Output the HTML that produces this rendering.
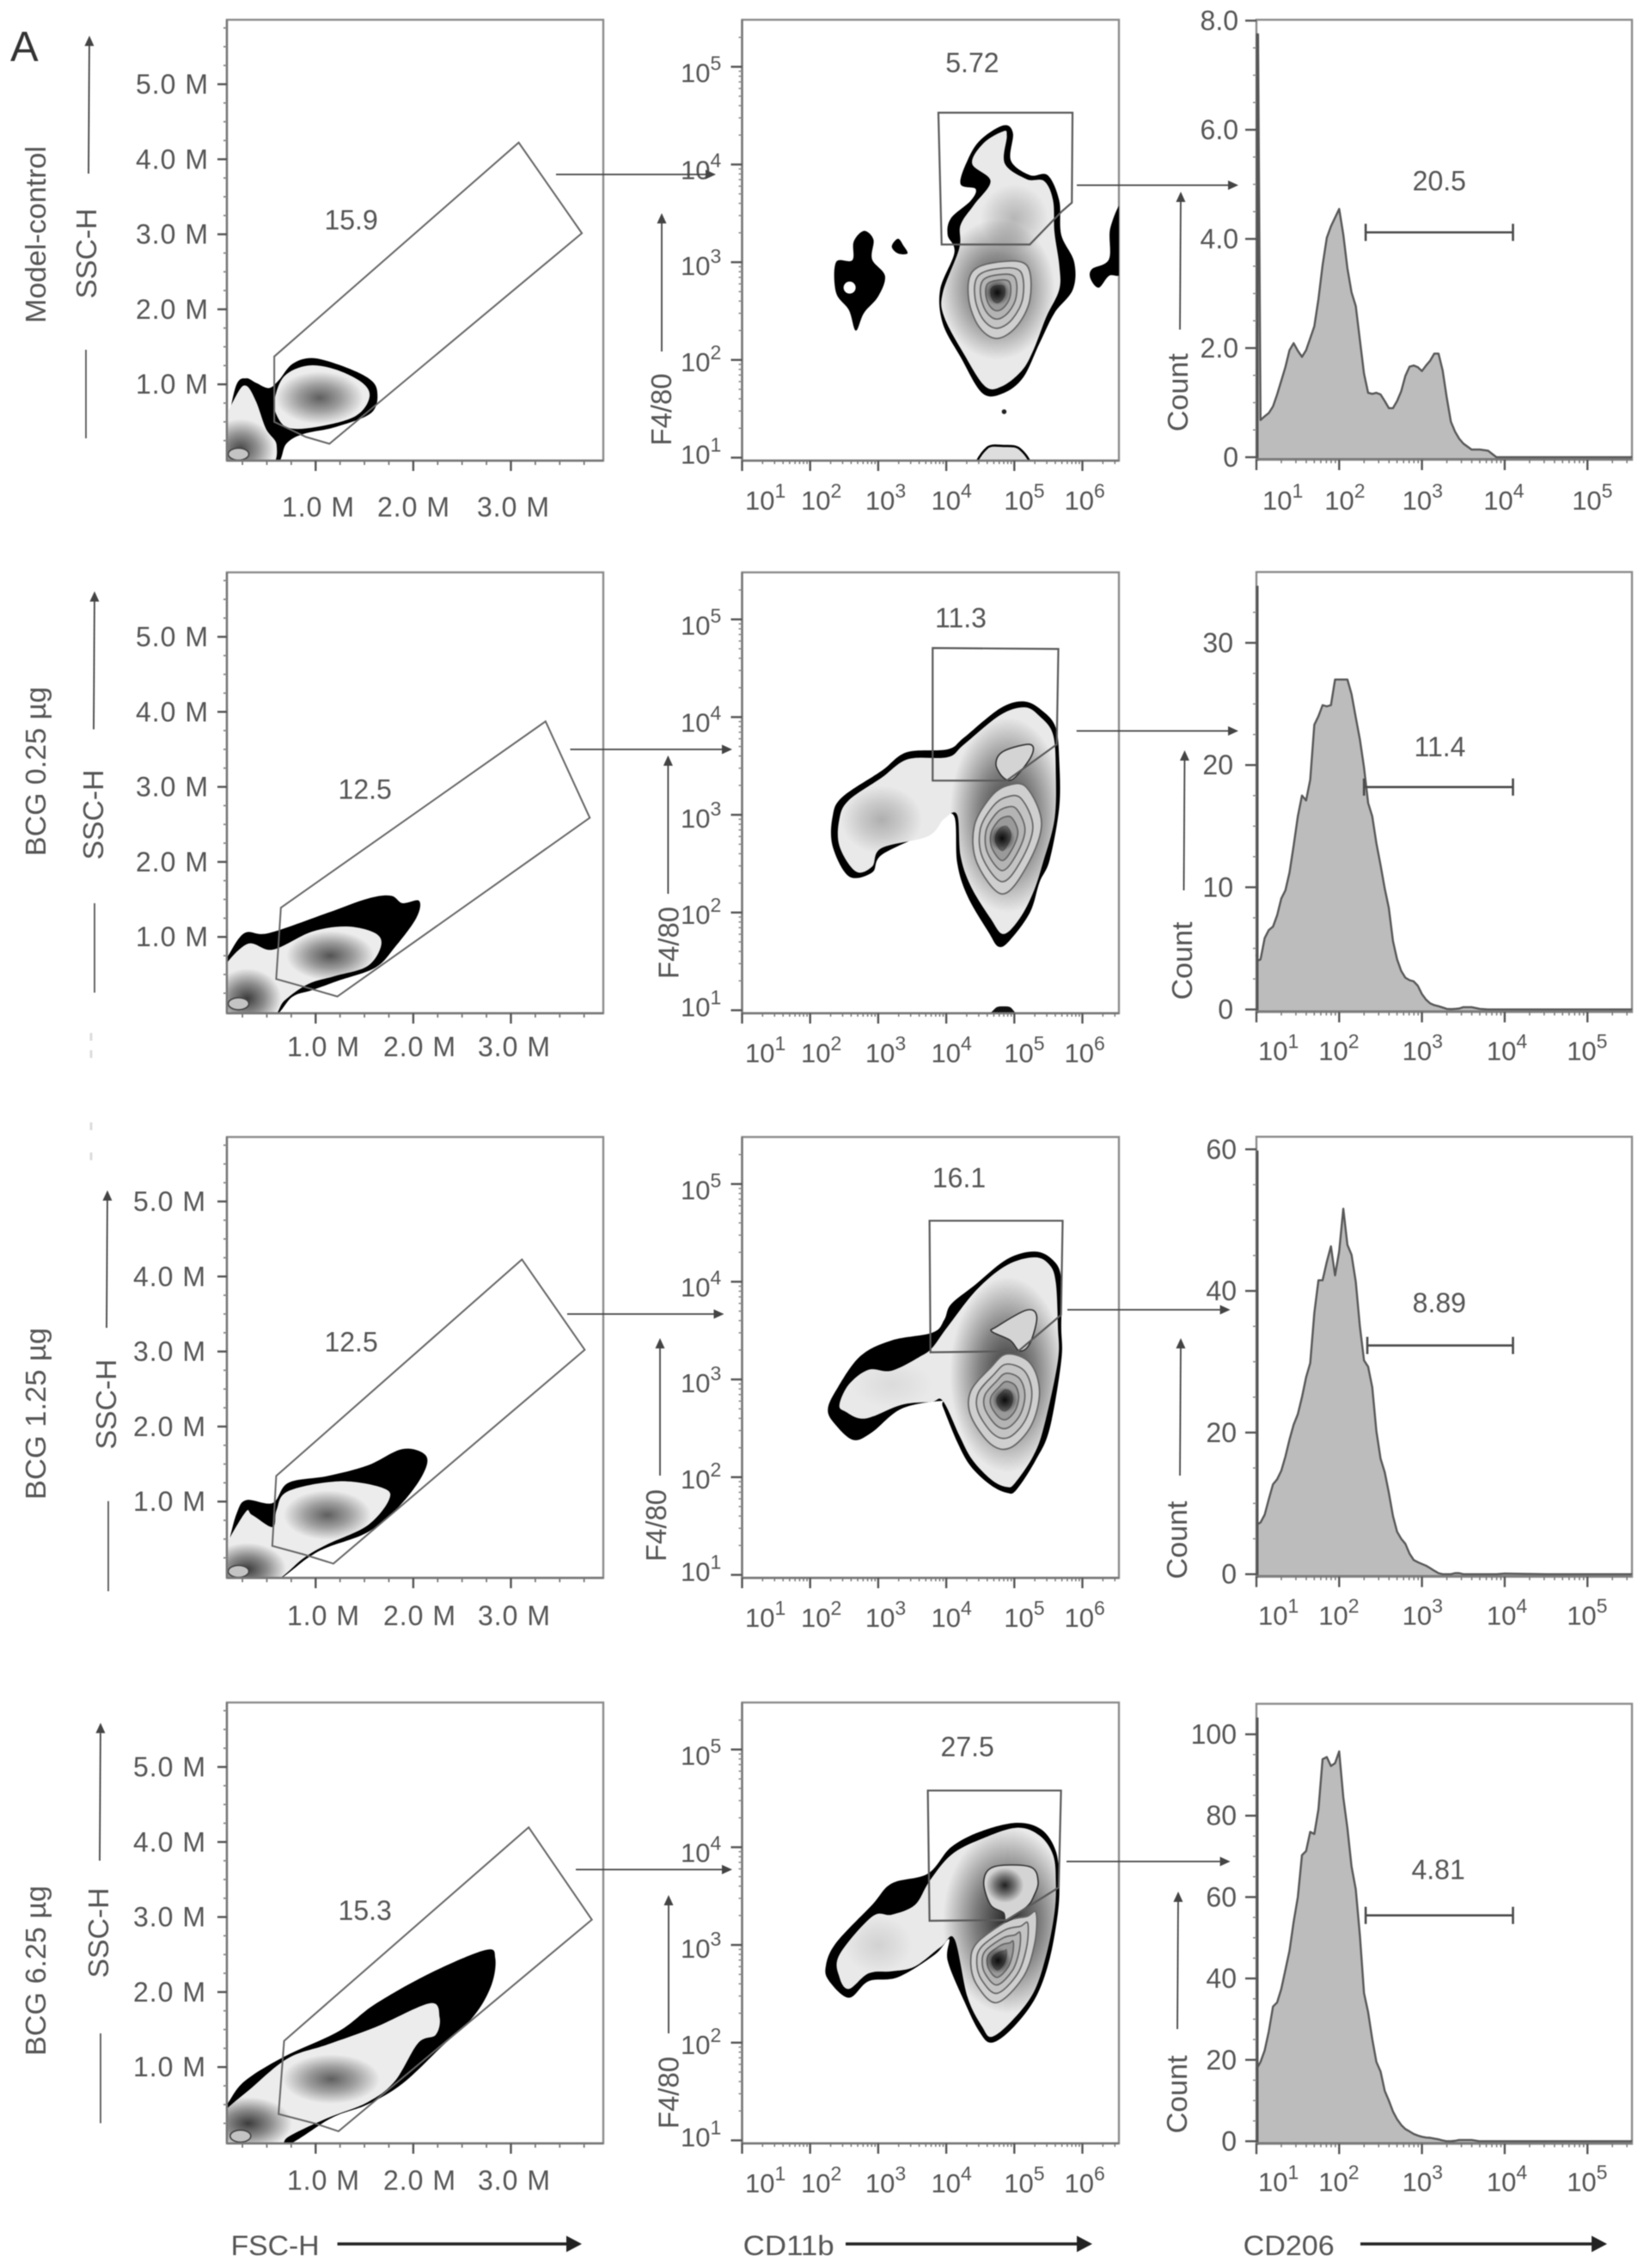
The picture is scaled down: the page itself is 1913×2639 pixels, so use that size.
<!DOCTYPE html>
<html lang="en">
<head>
<meta charset="utf-8">
<title>Flow cytometry gating: FSC/SSC, CD11b/F4/80 and CD206 histograms</title>
<style>
html,body{margin:0;padding:0;background:#fff;width:1913px;height:2639px;overflow:hidden}
svg{display:block;filter:blur(0.65px)}
text{font-family:"Liberation Sans",sans-serif}
</style>
</head>
<body>
<svg id="fig" xmlns="http://www.w3.org/2000/svg" width="1913" height="2639" viewBox="0 0 1913 2639">
<defs>
<radialGradient id="shade"><stop offset="0" stop-color="#000" stop-opacity="1"/><stop offset="0.5" stop-color="#000" stop-opacity="0.55"/><stop offset="1" stop-color="#000" stop-opacity="0"/></radialGradient>
</defs>
<rect x="0" y="0" width="1913" height="2639" fill="#fff"/>
<text x="12" y="71" font-size="49" fill="#333">A</text>
</svg>
<script>
/* ---------- shared tick values and labels ---------- */
const rowNames = ['Model-control', 'BCG 0.25 µg', 'BCG 1.25 µg', 'BCG 6.25 µg'];
const fscTicks = [1, 2, 3];
const fscTickLabels = ['1.0 M', '2.0 M', '3.0 M'];
const sscTicks = [1, 2, 3, 4, 5];
const sscTickLabels = ['1.0 M', '2.0 M', '3.0 M', '4.0 M', '5.0 M'];
const cd11bDecades = [1, 2, 3, 4, 5, 6];
const f480Decades = [1, 2, 3, 4, 5];
const cd206Decades = [1, 2, 3, 4, 5];

/* ---------- gate percentages ---------- */
const fscGatePercent = ['15.9', '12.5', '12.5', '15.3'];
const f480GatePercent = ['5.72', '11.3', '16.1', '27.5'];
const cd206GatePercent = ['20.5', '11.4', '8.89', '4.81'];

/* ---------- FSC-H / SSC-H density outlines, in millions ---------- */
const fscGateModel = [[0.576,1.371],[3.08,4.222],[3.727,3.014],[1.141,0.208],[0.90,0.299],[0.576,0.50]];
const fscGate025 = [[0.644,1.39],[3.355,3.873],[3.808,2.588],[1.222,0.206],[0.899,0.329],[0.596,0.439]];
const fscGate125 = [[0.596,1.341],[3.113,4.227],[3.756,3.023],[1.182,0.173],[0.879,0.295],[0.556,0.409]];
const fscGate625 = [[0.677,1.349],[3.182,4.195],[3.829,2.964],[1.234,0.144],[1.0,0.246],[0.62,0.374]];

const fscOuterModel = [[0,0.40],[0.09,0.50],[0.19,1.00],[0.29,1.08],[0.39,1.02],[0.52,0.95],[0.62,1.05],[0.76,1.27],[0.96,1.35],[1.24,1.26],[1.53,1.09],[1.63,0.91],[1.57,0.62],[1.20,0.43],[0.88,0.34],[0.70,0.21],[0.56,-0.1],[0,-0.1]];
const fscOuter025 = [[0,0.55],[0.09,0.72],[0.27,1.05],[0.52,1.05],[1.12,1.32],[1.53,1.51],[1.77,1.55],[1.89,1.45],[2.06,1.48],[2.03,1.25],[1.81,0.86],[1.61,0.59],[1.24,0.42],[0.96,0.29],[0.76,0.20],[0.52,-0.1],[0,-0.1]];
const fscOuter125 = [[0,0.25],[0.09,0.39],[0.19,0.84],[0.29,1.02],[0.56,0.98],[0.72,1.25],[1.12,1.34],[1.53,1.48],[1.89,1.70],[2.13,1.61],[2.09,1.34],[1.85,0.93],[1.53,0.59],[1.12,0.39],[0.92,0.25],[0.52,-0.1],[0,-0.1]];
const fscOuter625 = [[0,0.40],[0.09,0.50],[0.27,0.81],[0.68,1.14],[1.24,1.48],[1.61,1.84],[2.17,2.25],[2.74,2.56],[2.84,2.45],[2.80,2.09],[2.62,1.68],[2.29,1.27],[1.89,0.78],[1.53,0.50],[1.16,0.32],[0.60,-0.1],[0,-0.1]];

const fscDebrisModel = [[0,0.3],[0.19,0.86],[0.29,0.98],[0.39,0.77],[0.49,0.41],[0.60,0.19],[0.52,-0.1],[0,-0.1]];
const fscInnerModel = [[0.58,0.80],[0.68,1.11],[0.92,1.25],[1.20,1.20],[1.48,1.02],[1.55,0.82],[1.40,0.57],[1.00,0.43],[0.72,0.42],[0.60,0.59]];
const fscInner025 = [[0,0.45],[0.29,0.90],[0.56,0.83],[0.96,1.07],[1.32,1.14],[1.61,1.05],[1.67,0.88],[1.53,0.61],[1.20,0.48],[0.92,0.37],[0.68,0.15],[0.52,-0.1],[0,-0.1]];
const fscInner125 = [[0,0.2],[0.27,0.84],[0.35,0.82],[0.56,0.66],[0.60,0.89],[0.72,1.14],[1.24,1.27],[1.69,1.18],[1.75,1.02],[1.53,0.68],[1.12,0.43],[0.88,0.25],[0.52,-0.1],[0,-0.1]];
const fscInner625 = [[0,0.3],[0.35,0.73],[0.72,1.12],[1.12,1.30],[1.61,1.53],[2.17,1.85],[2.27,1.66],[2.23,1.43],[2.05,1.32],[1.81,0.81],[1.53,0.53],[1.12,0.32],[0.72,0.07],[0.60,-0.1],[0,-0.1]];

/* density peaks: centre x, centre y, spread x, spread y, strength */
const fscPeaksModel = [[1.04,0.82,0.45,0.35,0.6],[0.23,0.14,0.35,0.4,0.7]];
const fscPeaks025 = [[1.15,0.75,0.45,0.33,0.65],[0.30,0.18,0.35,0.4,0.75]];
const fscPeaks125 = [[1.12,0.82,0.45,0.33,0.6],[0.30,0.10,0.4,0.35,0.75]];
const fscPeaks625 = [[1.16,0.84,0.5,0.33,0.6],[0.31,0.25,0.45,0.35,0.75]];
const fscDebrisCentre = [[0.21,0.07],[0.21,0.11],[0.21,0.07],[0.23,0.08]];

/* ---------- CD11b / F4/80 density outlines, in log10 units ---------- */
const f480GateModel = [[3.884,4.53],[5.855,4.53],[5.845,3.609],[5.70,3.522],[5.227,3.181],[3.932,3.181]];
const f480Gate025 = [[3.80,4.707],[5.647,4.697],[5.623,3.72],[4.889,3.35],[3.80,3.35]];
const f480Gate125 = [[3.754,4.624],[5.71,4.624],[5.686,3.66],[5.058,3.289],[3.768,3.278]];
const f480Gate625 = [[3.729,4.58],[5.686,4.58],[5.652,3.588],[4.889,3.255],[3.754,3.247]];

const f480OuterModel = [[4.84,4.40],[4.98,4.32],[4.95,4.04],[5.23,3.89],[5.49,3.89],[5.66,3.63],[5.69,3.28],[5.88,3.00],[5.86,2.72],[5.59,2.48],[5.37,2.17],[5.13,1.82],[4.84,1.66],[4.53,1.66],[4.21,2.03],[3.95,2.37],[3.91,2.72],[4.12,3.10],[4.02,3.28],[4.07,3.45],[4.36,3.63],[4.43,3.75],[4.21,3.80],[4.31,4.04],[4.50,4.25]];
const f480Outer025 = [[5.15,4.16],[5.42,4.06],[5.61,3.89],[5.66,3.55],[5.66,3.08],[5.52,2.54],[5.37,2.31],[5.23,2.00],[4.94,1.72],[4.77,1.65],[4.62,1.80],[4.31,2.17],[4.16,2.51],[4.12,2.98],[3.90,2.96],[3.68,2.81],[3.05,2.59],[2.91,2.41],[2.57,2.37],[2.33,2.68],[2.33,2.98],[2.47,3.18],[3.05,3.45],[3.42,3.64],[4.02,3.67],[4.26,3.79],[4.79,4.09]];
const f480Outer125 = [[5.30,4.31],[5.57,4.22],[5.69,4.03],[5.69,3.54],[5.69,3.19],[5.52,2.50],[5.32,2.18],[5.03,1.87],[4.89,1.84],[4.65,1.92],[4.36,2.11],[4.16,2.36],[3.95,2.72],[3.92,2.78],[3.34,2.70],[2.91,2.46],[2.64,2.38],[2.38,2.53],[2.26,2.69],[2.40,2.91],[2.74,3.24],[3.20,3.40],[3.80,3.48],[3.97,3.61],[4.07,3.77],[4.41,3.96],[4.89,4.23]];
const f480Outer625 = [[5.03,4.25],[5.40,4.18],[5.61,3.96],[5.66,3.65],[5.64,3.33],[5.52,2.86],[5.32,2.47],[4.99,2.16],[4.67,2.00],[4.48,2.12],[4.26,2.43],[4.02,2.84],[4.04,3.06],[3.83,2.90],[3.29,2.67],[2.86,2.63],[2.57,2.46],[2.28,2.63],[2.23,2.78],[2.38,3.02],[2.91,3.41],[3.20,3.63],[3.73,3.73],[4.07,4.00],[4.50,4.16]];

const f480InnerModel = [[4.84,4.34],[4.89,4.29],[4.86,4.01],[5.18,3.85],[5.44,3.83],[5.57,3.63],[5.59,3.31],[5.66,2.97],[5.66,2.72],[5.47,2.44],[5.28,2.10],[5.11,1.89],[4.82,1.73],[4.57,1.73],[4.26,2.06],[3.97,2.44],[3.95,2.69],[4.19,3.14],[4.21,3.38],[4.41,3.59],[4.65,3.83],[4.38,4.01],[4.55,4.22]];
const f480Inner025 = [[5.15,4.10],[5.37,4.01],[5.57,3.82],[5.61,3.42],[5.59,2.95],[5.42,2.51],[5.28,2.21],[5.08,1.94],[4.84,1.78],[4.65,1.94],[4.36,2.27],[4.21,2.58],[4.16,3.00],[3.97,2.96],[3.73,2.78],[3.05,2.66],[2.91,2.47],[2.67,2.42],[2.43,2.68],[2.43,2.96],[2.57,3.15],[3.05,3.38],[3.44,3.57],[4.02,3.59],[4.26,3.72],[4.79,4.02]];
const f480Inner125 = [[5.30,4.25],[5.52,4.17],[5.61,3.99],[5.64,3.54],[5.64,3.19],[5.44,2.53],[5.28,2.22],[5.01,1.94],[4.89,1.90],[4.67,1.97],[4.38,2.18],[4.19,2.43],[3.95,2.78],[3.78,2.77],[3.34,2.74],[2.81,2.60],[2.52,2.67],[2.43,2.74],[2.57,2.95],[2.86,3.10],[3.20,3.09],[3.63,3.24],[3.80,3.33],[4.02,3.54],[4.45,3.92],[4.89,4.17]];
const f480Inner625 = [[5.03,4.20],[5.37,4.12],[5.57,3.92],[5.61,3.65],[5.59,3.33],[5.47,2.90],[5.28,2.51],[4.96,2.22],[4.67,2.06],[4.53,2.16],[4.31,2.47],[4.12,3.06],[3.92,2.98],[3.54,2.78],[3.20,2.73],[2.86,2.71],[2.57,2.55],[2.43,2.67],[2.43,2.90],[2.91,3.29],[3.20,3.31],[3.54,3.41],[3.75,3.65],[4.07,3.92],[4.50,4.08]];

const f480PeaksModel = [[4.75,2.72,0.85,0.72,0.7],[5.0,3.45,0.5,0.35,0.22]];
const f480Peaks025 = [[4.9,3.0,0.85,1.0,0.8],[3.05,2.95,0.6,0.35,0.25]];
const f480Peaks125 = [[4.9,3.05,0.85,1.0,0.8],[3.2,2.95,0.6,0.25,0.06]];
const f480Peaks625 = [[4.9,3.25,0.95,0.95,0.85],[3.0,3.0,0.5,0.3,0.1]];

const f480ContourModel = [[4.74,3.00],[5.18,2.97],[5.23,2.62],[5.03,2.34],[4.74,2.22],[4.48,2.34],[4.33,2.62],[4.38,2.90]];
const f480Contour025 = [[5.18,3.28],[5.40,2.91],[5.18,2.47],[4.82,2.19],[4.45,2.51],[4.41,2.88],[4.65,3.18],[4.90,3.30]];
const f480Contour125 = [[4.89,3.26],[5.23,3.17],[5.37,2.88],[5.25,2.53],[4.94,2.30],[4.65,2.34],[4.36,2.63],[4.36,2.88],[4.65,3.12]];
const f480Contour625 = [[5.18,3.29],[5.32,3.33],[5.30,3.02],[5.13,2.67],[4.74,2.41],[4.45,2.59],[4.36,2.82],[4.45,3.02],[4.89,3.24]];
const f480ContourCentre = [[4.75,2.69],[4.82,2.76],[4.86,2.79],[4.76,2.84]];
const contourLevels = [1, 0.78, 0.58, 0.4, 0.22];

const f480Island025 = [[4.84,3.65],[5.23,3.72],[5.25,3.60],[4.99,3.37],[4.84,3.38],[4.73,3.52]];
const f480Island125 = [[4.74,3.54],[5.18,3.71],[5.33,3.64],[5.23,3.37],[5.08,3.29],[4.94,3.40],[4.67,3.49]];
const f480Island625 = [[4.55,3.65],[4.70,3.80],[5.23,3.80],[5.35,3.65],[5.28,3.49],[5.18,3.39],[4.89,3.24],[4.84,3.33],[4.65,3.41]];
const f480IslandPeak625 = [[4.86,3.61,0.28,0.18,0.85]];

const f480SatelliteLeftModel = [[2.79,3.32],[2.93,3.23],[2.91,3.03],[3.10,2.86],[3.00,2.65],[2.79,2.48],[2.67,2.30],[2.57,2.51],[2.38,2.69],[2.38,3.00],[2.62,3.02],[2.64,3.21]];
const f480SatelliteSmallModel = [[3.29,3.24],[3.37,3.17],[3.43,3.09],[3.29,3.09],[3.20,3.16]];
const f480SatelliteRightModel = [[6.6,3.6],[6.41,3.35],[6.39,3.03],[6.14,2.93],[6.12,2.83],[6.24,2.74],[6.39,2.86],[6.6,2.93]];
const f480BumpModel = [[4.48,0.9],[4.60,1.10],[4.84,1.12],[5.08,1.09],[5.20,0.9]];
const f480Bump025 = [[4.62,0.9],[4.72,1.02],[4.84,1.04],[4.96,1.02],[5.03,0.9]];
const f480HoleModel = [2.58, 2.74];
const f480DotModel = [4.85, 1.47];

/* ---------- CD206 histograms ---------- */
const cd206Bins = [1.00,1.02,1.05,1.10,1.15,1.20,1.25,1.30,1.35,1.40,1.45,1.50,1.55,1.60,1.65,1.70,1.75,1.80,1.85,1.90,1.95,2.00,2.05,2.10,2.15,2.20,2.25,2.30,2.35,2.40,2.45,2.50,2.55,2.60,2.65,2.70,2.75,2.80,2.85,2.90,2.95,3.00,3.05,3.10,3.15,3.20,3.25,3.30,3.35,3.40,3.45,3.50,3.60,3.70,3.80,3.90,4.00,4.50,5.00,5.54];
const countsModel = [7.75,7.75,0.68,0.75,0.81,0.93,1.15,1.40,1.65,1.96,2.09,1.95,1.84,1.96,2.18,2.40,2.90,3.52,4.02,4.23,4.39,4.55,4.08,3.46,3.02,2.77,2.15,1.53,1.18,1.16,1.18,1.15,1.03,0.90,0.90,1.03,1.21,1.49,1.66,1.68,1.65,1.58,1.68,1.77,1.90,1.90,1.59,1.09,0.65,0.47,0.34,0.25,0.14,0.14,0.12,0,0,0,0,0];
const counts025 = [4.5,4.0,4.1,5.84,6.5,6.78,7.7,9.07,9.74,11.2,13.4,15.8,17.5,17.1,18.8,23.3,24.0,24.9,24.8,24.9,27.0,27.0,27.0,27.0,25.8,23.9,22.1,19.8,16.9,15.8,13.6,11.8,9.9,8.3,5.6,4.1,3.15,2.6,2.4,2.3,1.94,1.26,0.8,0.5,0.35,0.27,0.16,0.05,0.03,0.05,0.08,0.19,0.19,0.05,0,0,0,0,0,0];
const counts125 = [7.0,7.1,7.3,8.4,10.6,12.7,13.4,14.6,16.6,19.0,21.1,22.6,25.0,27.8,29.8,36.9,41.5,41.5,44.1,46.3,42.2,45.6,51.6,46.5,45.1,41.3,35.0,30.2,29.3,26.4,20.2,16.3,14.4,11.5,8.2,6.0,5.0,4.3,2.9,2.0,1.7,1.44,1.2,0.86,0.48,0.14,0,0,0,0.14,0.14,0,0,0,0,0,0.1,0,0,0];
const counts625 = [17.6,18.4,19.5,22.3,27.0,33.1,34.1,37.4,42.1,46.8,53.9,60.0,70.3,71.3,76.0,75.5,81.6,93.9,94.4,92.2,92.9,95.8,84.5,76.9,67.5,61.9,50.6,36.4,31.7,25.1,19.5,17.1,12.4,10.0,7.3,5.4,4.0,3.0,2.4,1.8,1.4,1.1,0.9,0.85,0.66,0.47,0.2,0,0,0.1,0.3,0.3,0.3,0,0,0,0,0,0,0];

const countTicksModel = [0, 2, 4, 6, 8];
const countTickLabelsModel = ['0', '2.0', '4.0', '6.0', '8.0'];
const countTicks025 = [0, 10, 20, 30];
const countTickLabels025 = ['0', '10', '20', '30'];
const countTicks125 = [0, 20, 40, 60];
const countTickLabels125 = ['0', '20', '40', '60'];
const countTicks625 = [0, 20, 40, 60, 80, 100];
const countTickLabels625 = ['0', '20', '40', '60', '80', '100'];
const cd206GateRange = [[2.32, 4.10], [2.30, 4.10], [2.34, 4.10], [2.32, 4.10]];
const cd206GateHeight = [4.12, 18.2, 32.3, 55.5];

/* ---------- drawing ---------- */
const NS = 'http://www.w3.org/2000/svg';
const svg = document.getElementById('fig');
const INK = '#555', LABEL = '#555';

function make(parent, tag, name, attrs) {
  const el = document.createElementNS(NS, tag);
  
  
  for (const k in attrs) el.setAttribute(k, attrs[k]);
  parent.appendChild(el);
  return el;
}
function label(parent, name, x, y, str, opts) {
  const o = Object.assign({'font-size': 32, fill: LABEL, 'text-anchor': 'start', x: x, y: y}, opts || {});
  const el = make(parent, 'text', name, o);
  el.textContent = str;
  return el;
}
function powerLabel(parent, name, x, y, exp) {
  const el = make(parent, 'text', name, {x: x, y: y, 'font-size': 31, fill: LABEL});
  const a = make(el, 'tspan', 'power-base', {});
  a.textContent = '10';
  const b = make(el, 'tspan', 'power-exponent', {'font-size': 23, dy: -14});
  b.textContent = String(exp);
}
function sideLabel(parent, name, cx, cy, str, len) {
  const el = make(parent, 'text', name, {x: 0, y: 0, 'font-size': 33, fill: LABEL, 'text-anchor': 'middle',
    transform: 'translate(' + cx + ' ' + cy + ') rotate(-90) translate(0 12)', textLength: len, lengthAdjust: 'spacingAndGlyphs'});
  el.textContent = str;
}
function arrow(parent, name, x1, y1, x2, y2, w, hl, hw, col) {
  const g = make(parent, 'g', name, {});
  const dx = x2 - x1, dy = y2 - y1, L = Math.hypot(dx, dy), ux = dx / L, uy = dy / L;
  const bx = x2 - ux * hl, by = y2 - uy * hl;
  make(g, 'line', 'arrow-shaft', {x1: x1, y1: y1, x2: bx, y2: by, stroke: col, 'stroke-width': w});
  make(g, 'polygon', 'arrow-head', {points: x2 + ',' + y2 + ' ' + (bx - uy * hw / 2) + ',' + (by + ux * hw / 2) + ' ' + (bx + uy * hw / 2) + ',' + (by - ux * hw / 2), fill: col});
}
function smooth(p) {
  const n = p.length;
  let d = 'M' + p[0][0].toFixed(1) + ' ' + p[0][1].toFixed(1);
  for (let i = 0; i < n; i++) {
    const a = p[(i - 1 + n) % n], b = p[i], c = p[(i + 1) % n], e = p[(i + 2) % n];
    d += 'C' + (b[0] + (c[0] - a[0]) / 6).toFixed(1) + ' ' + (b[1] + (c[1] - a[1]) / 6).toFixed(1) + ' ' +
      (c[0] - (e[0] - b[0]) / 6).toFixed(1) + ' ' + (c[1] - (e[1] - b[1]) / 6).toFixed(1) + ' ' + c[0].toFixed(1) + ' ' + c[1].toFixed(1);
  }
  return d + 'Z';
}
function blob(parent, name, data, sx, sy, attrs) {
  const px = data.map(function (v) { return [sx(v[0]), sy(v[1])]; });
  return make(parent, 'path', name, Object.assign({d: smooth(px)}, attrs));
}
let clipCount = 0;
function clipFrom(d) {
  const id = 'clip' + (++clipCount);
  const c = make(svg.querySelector('defs'), 'clipPath', 'clip-region', {id: id});
  make(c, 'path', 'clip-outline', {d: d});
  return 'url(#' + id + ')';
}
function shadedBlob(parent, name, data, peaks, sx, sy, fill) {
  const el = blob(parent, name, data, sx, sy, {fill: fill});
  const g = make(parent, 'g', name + '-density', {'clip-path': clipFrom(el.getAttribute('d'))});
  peaks.forEach(function (k) {
    make(g, 'ellipse', 'density-peak', {cx: sx(k[0]), cy: sy(k[1]), rx: Math.abs(sx(k[0] + k[2]) - sx(k[0])), ry: Math.abs(sy(k[1] + k[3]) - sy(k[1])), fill: 'url(#shade)', opacity: k[4]});
  });
}
function frame(parent, x, y, w, h) {
  make(parent, 'rect', 'plot-frame', {x: x, y: y, width: w, height: h, fill: '#fff', stroke: '#8c8c8c', 'stroke-width': 2.4});
  const id = 'clip' + (++clipCount);
  const c = make(svg.querySelector('defs'), 'clipPath', 'clip-region', {id: id});
  make(c, 'rect', 'clip-outline', {x: x, y: y, width: w, height: h});
  return 'url(#' + id + ')';
}
function tickY(p, name, x, y, len, w, col) { make(p, 'line', name, {x1: x - len, x2: x, y1: y, y2: y, stroke: col, 'stroke-width': w}); }
function tickX(p, name, x, y, len, w, col) { make(p, 'line', name, {x1: x, x2: x, y1: y, y2: y + len, stroke: col, 'stroke-width': w}); }

const PANEL_H = 513, C1 = 264, C1W = 438, C2 = 863.5, C2W = 438.5, C3 = 1462, C3W = 437;
const tops = [23, 666, 1323, 1981];

const fscData = [
  {gate: fscGateModel, outer: fscOuterModel, inners: [fscDebrisModel, fscInnerModel], peaks: fscPeaksModel},
  {gate: fscGate025, outer: fscOuter025, inners: [fscInner025], peaks: fscPeaks025},
  {gate: fscGate125, outer: fscOuter125, inners: [fscInner125], peaks: fscPeaks125},
  {gate: fscGate625, outer: fscOuter625, inners: [fscInner625], peaks: fscPeaks625}
];
const f480Data = [
  {gate: f480GateModel, outer: f480OuterModel, inner: f480InnerModel, peaks: f480PeaksModel, contour: f480ContourModel, island: null, islandPeaks: []},
  {gate: f480Gate025, outer: f480Outer025, inner: f480Inner025, peaks: f480Peaks025, contour: f480Contour025, island: f480Island025, islandPeaks: []},
  {gate: f480Gate125, outer: f480Outer125, inner: f480Inner125, peaks: f480Peaks125, contour: f480Contour125, island: f480Island125, islandPeaks: []},
  {gate: f480Gate625, outer: f480Outer625, inner: f480Inner625, peaks: f480Peaks625, contour: f480Contour625, island: f480Island625, islandPeaks: f480IslandPeak625}
];
const histData = [
  {counts: countsModel, ticks: countTicksModel, labels: countTickLabelsModel, minor: 0.5, pxPerCount: 63.5},
  {counts: counts025, ticks: countTicks025, labels: countTickLabels025, minor: 2.5, pxPerCount: 14.22},
  {counts: counts125, ticks: countTicks125, labels: countTickLabels125, minor: 5, pxPerCount: 8.24},
  {counts: counts625, ticks: countTicks625, labels: countTickLabels625, minor: 5, pxPerCount: 4.735}
];

/* per-row annotation placement */
const fscLayout = [
  {xl: [370, 481, 597], xb: 578, yr: 242, pct: [408.6, 267], arrowX: 103, arrowTo: 41.5, arrowFrom: 202, titleX: 100, titleY: 295, lineX: 100, line: [407, 510], rowLabelY: 273, rowLen: 206},
  {xl: [376, 488, 598], xb: 563, yr: 242, pct: [424.7, 929.7], arrowX: 109, arrowTo: 688, arrowFrom: 848.6, titleX: 108, titleY: 948, lineX: 110, line: [1051, 1155], rowLabelY: 897.6, rowLen: 197},
  {xl: [376, 488, 598], xb: 568, yr: 239, pct: [408.6, 1572.7], arrowX: 124, arrowTo: 1385, arrowFrom: 1545, titleX: 123, titleY: 1634, lineX: 126, line: [1746.7, 1851.5], rowLabelY: 1645, rowLen: 200},
  {xl: [376, 488, 598], xb: 567, yr: 239, pct: [424.7, 2234], arrowX: 116, arrowTo: 2004.6, arrowFrom: 2165, titleX: 114, titleY: 2249, lineX: 117, line: [2366, 2470.5], rowLabelY: 2293, rowLen: 198}
];
const f480Layout = [
  {pct: [1131.4, 84], arrowX: 770, arrowTo: 248, arrowFrom: 409, titleX: 769, titleY: 476.5},
  {pct: [1118, 730], arrowX: 777.4, arrowTo: 879, arrowFrom: 1040, titleX: 777.4, titleY: 1097},
  {pct: [1116, 1381.7], arrowX: 768, arrowTo: 1557, arrowFrom: 1717, titleX: 763, titleY: 1775},
  {pct: [1125.7, 2043.4], arrowX: 778, arrowTo: 2205, arrowFrom: 2366, titleX: 777.4, titleY: 2435}
];
const histLayout = [
  {pct: [1674.8, 221.4], arrowX: 1373, arrowTo: 223, arrowFrom: 383.5, titleX: 1370, titleY: 456.7, yr: 1441, xNudge: [7, -17, -23, -24.6, -18], xb: 570, top: 23},
  {pct: [1675.5, 880], arrowX: 1377.5, arrowTo: 873, arrowFrom: 1036, titleX: 1375, titleY: 1118, yr: 1435, xNudge: [2, -24, -23, -21, -24], xb: 568, top: 665.6},
  {pct: [1674.8, 1527], arrowX: 1373, arrowTo: 1557, arrowFrom: 1717, titleX: 1369, titleY: 1792, yr: 1439, xNudge: [2, -24, -23, -21, -24], xb: 568, top: 1322.7},
  {pct: [1673.6, 2186.5], arrowX: 1370, arrowTo: 2201, arrowFrom: 2361, titleX: 1369, titleY: 2437, yr: 1439, xNudge: [2, -24, -23, -21, -24], xb: 567, top: 1982.5}
];
const flowLayout = [
  [647, 203, 833, 203, 1253, 215.5, 1441, 215.5],
  [663.5, 872, 852, 872, 1252.7, 850.5, 1441, 850.5],
  [660, 1529, 842.5, 1529, 1242, 1524, 1431.6, 1524],
  [670, 2175.4, 852, 2175.4, 1241, 2166, 1431.6, 2166]
];
const f480LabelNudge = [3.5, -10.7, -15, -17.6, -12, -21];
const f480LabelDrop = {1: 7, 2: 13, 3: 15, 4: 17, 5: 18};

function drawFsc(i) {
  const top = tops[i], d = fscData[i], L = fscLayout[i];
  const sx = function (v) { return 253.7 + 113.6 * v; };
  const sy = function (v) { return top + 511.5 - 87.3 * v; };
  const g = make(svg, 'g', 'fsc-ssc-plot-row-' + (i + 1), {});
  const clip = frame(g, C1, top, C1W, PANEL_H);
  const body = make(g, 'g', 'fsc-ssc-density', {'clip-path': clip});
  blob(body, 'cell-population-outer', d.outer, sx, sy, {fill: '#000'});
  d.inners.forEach(function (poly) {
    shadedBlob(body, 'cell-population-inner', poly, d.peaks, sx, sy, '#ececec');
  });
  const c = fscDebrisCentre[i];
  make(body, 'ellipse', 'debris-peak', {cx: sx(c[0]), cy: sy(c[1]), rx: 12, ry: 7, fill: '#c4c4c4', stroke: '#444', 'stroke-width': 1.6});
  make(g, 'polygon', 'singlet-gate', {points: d.gate.map(function (v) { return sx(v[0]) + ',' + sy(v[1]); }).join(' '), fill: 'none', stroke: '#666', 'stroke-width': 2});
  make(g, 'line', 'y-axis', {x1: C1, x2: C1, y1: top, y2: top + PANEL_H, stroke: '#777', 'stroke-width': 2.4});
  make(g, 'line', 'x-axis', {x1: C1, x2: C1 + C1W, y1: top + PANEL_H, y2: top + PANEL_H, stroke: '#777', 'stroke-width': 2.4});
  for (let v = 0.25; v < 5.8; v += 0.25) tickY(g, 'y-minor-tick', C1, sy(v), 4, 1.8, '#888');
  for (let v = 0.25; v < 3.95; v += 0.25) tickX(g, 'x-minor-tick', sx(v), top + PANEL_H, 5, 1.8, '#777');
  sscTicks.forEach(function (v, k) {
    tickY(g, 'y-major-tick', C1, sy(v), 11, 2.4, INK);
    label(g, 'y-tick-label', L.yr, sy(v) + 11, sscTickLabels[k], {'text-anchor': 'end', textLength: 84, lengthAdjust: 'spacing'});
  });
  fscTicks.forEach(function (v, k) {
    tickX(g, 'x-major-tick', sx(v), top + PANEL_H, 12, 2.4, INK);
    label(g, 'x-tick-label', L.xl[k], top + L.xb, fscTickLabels[k], {'text-anchor': 'middle', textLength: 84, lengthAdjust: 'spacing'});
  });
  label(g, 'gate-percent', L.pct[0], L.pct[1], fscGatePercent[i], {'text-anchor': 'middle'});
  arrow(g, 'ssc-axis-arrow', L.arrowX, L.arrowFrom, L.arrowX + 1, L.arrowTo, 1.8, 12, 11, '#444');
  make(g, 'line', 'ssc-axis-tail', {x1: L.lineX, x2: L.lineX, y1: L.line[0], y2: L.line[1], stroke: '#555', 'stroke-width': 1.8});
  sideLabel(g, 'ssc-axis-title', L.titleX, L.titleY, 'SSC-H', 105);
  sideLabel(g, 'row-label', 41, L.rowLabelY, rowNames[i], L.rowLen);
}

function drawF480(i) {
  const top = tops[i], d = f480Data[i], L = f480Layout[i];
  const sx = function (l) { return 863.5 + (l - 1) * 79.2; };
  const sy = function (l) { return top + 509.5 - (l - 1) * 113.7; };
  const g = make(svg, 'g', 'cd11b-f480-plot-row-' + (i + 1), {});
  const clip = frame(g, C2, top, C2W, PANEL_H);
  const body = make(g, 'g', 'cd11b-f480-density', {'clip-path': clip});
  if (i === 0) {
    blob(body, 'satellite-left', f480SatelliteLeftModel, sx, sy, {fill: '#000'});
    make(body, 'circle', 'satellite-hole', {cx: sx(f480HoleModel[0]), cy: sy(f480HoleModel[1]), r: 7, fill: '#fff'});
    blob(body, 'satellite-small', f480SatelliteSmallModel, sx, sy, {fill: '#000'});
    blob(body, 'satellite-right', f480SatelliteRightModel, sx, sy, {fill: '#000'});
    make(body, 'circle', 'outlier-dot', {cx: sx(f480DotModel[0]), cy: sy(f480DotModel[1]), r: 2.8, fill: '#222'});
    blob(body, 'low-f480-bump', f480BumpModel, sx, sy, {fill: '#dedede', stroke: '#000', 'stroke-width': 2.6});
  }
  if (i === 1) blob(body, 'low-f480-bump', f480Bump025, sx, sy, {fill: '#111'});
  blob(body, 'macrophage-outer', d.outer, sx, sy, {fill: '#000'});
  shadedBlob(body, 'macrophage-inner', d.inner, d.peaks, sx, sy, '#e9e9e9');
  const fills = ['#cfcfcf', '#c4c4c4', '#b4b4b4', '#9a9a9a', '#6e6e6e'];
  const c = f480ContourCentre[i];
  contourLevels.forEach(function (s, k) {
    const ring = d.contour.map(function (v) { return [c[0] + (v[0] - c[0]) * s, c[1] + (v[1] - c[1]) * s]; });
    blob(body, 'density-contour', ring, sx, sy, {fill: fills[k], stroke: '#666', 'stroke-width': 1.7});
  });
  make(body, 'ellipse', 'density-core', {cx: sx(c[0]), cy: sy(c[1]), rx: 15, ry: 15, fill: 'url(#shade)', opacity: 0.9});
  if (d.island) {
    shadedBlob(body, 'upper-density-island', d.island, d.islandPeaks, sx, sy, '#d4d4d4');
    blob(body, 'upper-density-island-edge', d.island, sx, sy, {fill: 'none', stroke: '#333', 'stroke-width': 1.6});
  }
  make(g, 'polygon', 'cd11b-f480-gate', {points: d.gate.map(function (v) { return sx(v[0]) + ',' + sy(v[1]); }).join(' '), fill: 'none', stroke: '#5a5a5a', 'stroke-width': 2.2});
  make(g, 'line', 'y-axis', {x1: C2, x2: C2, y1: top, y2: top + PANEL_H, stroke: '#777', 'stroke-width': 2.4});
  make(g, 'line', 'x-axis', {x1: C2, x2: C2 + C2W, y1: top + PANEL_H, y2: top + PANEL_H, stroke: '#777', 'stroke-width': 2.4});
  const mins = [2, 3, 4, 5, 6, 7, 8, 9];
  f480Decades.forEach(function (l) {
    mins.forEach(function (m) {
      const v = l + Math.log10(m);
      if (v < 5.4) tickY(g, 'y-minor-tick', C2, sy(v), 4, 1.5, '#888');
    });
    tickY(g, 'y-major-tick', C2, sy(l), 13, 2.4, INK);
    powerLabel(g, 'y-tick-label', 792, sy(l) + f480LabelDrop[l], l);
  });
  cd11bDecades.forEach(function (l, k) {
    mins.forEach(function (m) {
      const v = l + Math.log10(m);
      if (v < 6.52) tickX(g, 'x-minor-tick', sx(v), top + PANEL_H, 4, 1.5, '#777');
    });
    tickX(g, 'x-major-tick', sx(l), top + PANEL_H, 12, 2.4, INK);
    powerLabel(g, 'x-tick-label', sx(l) + f480LabelNudge[k], top + 570, l);
  });
  label(g, 'gate-percent', L.pct[0], L.pct[1], f480GatePercent[i], {'text-anchor': 'middle'});
  arrow(g, 'f480-axis-arrow', L.arrowX, L.arrowFrom, L.arrowX, L.arrowTo, 1.8, 12, 11, '#444');
  sideLabel(g, 'f480-axis-title', L.titleX, L.titleY, 'F4/80', 84);
}

function drawHist(i) {
  const d = histData[i], L = histLayout[i], top = L.top;
  const sx = function (l) { return C3 + (l - 1) * 96.3; };
  const y0 = top + 509;
  const sy = function (c) { return y0 - c * d.pxPerCount; };
  const g = make(svg, 'g', 'cd206-histogram-row-' + (i + 1), {});
  frame(g, C3, top, C3W, PANEL_H - 1);
  const pts = cd206Bins.map(function (b, k) { return sx(b).toFixed(1) + ',' + sy(d.counts[k]).toFixed(1); });
  make(g, 'polygon', 'histogram-fill', {points: sx(1) + ',' + (top + PANEL_H - 1) + ' ' + pts.join(' ') + ' ' + sx(5.54) + ',' + (top + PANEL_H - 1), fill: '#bcbcbc'});
  make(g, 'polyline', 'histogram-outline', {points: pts.join(' '), fill: 'none', stroke: '#585858', 'stroke-width': 2.4, 'stroke-linejoin': 'round'});
  make(g, 'line', 'y-axis', {x1: C3 + 1, x2: C3 + 1, y1: top + 16, y2: top + PANEL_H, stroke: '#555', 'stroke-width': 3});
  make(g, 'line', 'x-axis', {x1: C3, x2: C3 + C3W, y1: top + PANEL_H - 2, y2: top + PANEL_H - 2, stroke: '#777', 'stroke-width': 2});
  const limit = (y0 - top - 16) / d.pxPerCount;
  for (let v = d.minor; v <= limit; v += d.minor) tickY(g, 'y-minor-tick', C3, sy(v), 4, 1.5, '#888');
  d.ticks.forEach(function (v, k) {
    tickY(g, 'y-major-tick', C3, sy(v), 13, 2.4, INK);
    label(g, 'y-tick-label', L.yr, sy(v) + 11, d.labels[k], {'text-anchor': 'end'});
  });
  const mins = [2, 3, 4, 5, 6, 7, 8, 9];
  cd206Decades.forEach(function (l, k) {
    mins.forEach(function (m) {
      const v = l + Math.log10(m);
      if (v < 5.52) tickX(g, 'x-minor-tick', sx(v), top + PANEL_H - 1, 4, 1.5, '#777');
    });
    tickX(g, 'x-major-tick', sx(l), top + PANEL_H - 1, 12, 2.4, INK);
    powerLabel(g, 'x-tick-label', sx(l) + L.xNudge[k], top + L.xb, l);
  });
  const r = cd206GateRange[i], h = sy(cd206GateHeight[i]);
  const bar = make(g, 'g', 'cd206-positive-gate', {stroke: '#4a4a4a', 'stroke-width': 2.6});
  make(bar, 'line', 'gate-bar', {x1: sx(r[0]), x2: sx(r[1]), y1: h, y2: h});
  make(bar, 'line', 'gate-cap-left', {x1: sx(r[0]), x2: sx(r[0]), y1: h - 10, y2: h + 10});
  make(bar, 'line', 'gate-cap-right', {x1: sx(r[1]), x2: sx(r[1]), y1: h - 10, y2: h + 10});
  label(g, 'gate-percent', L.pct[0], L.pct[1], cd206GatePercent[i], {'text-anchor': 'middle'});
  arrow(g, 'count-axis-arrow', L.arrowX, L.arrowFrom, L.arrowX + 1, L.arrowTo, 1.8, 12, 11, '#444');
  sideLabel(g, 'count-axis-title', L.titleX, L.titleY, 'Count', 91);
}

[0, 1, 2, 3].forEach(function (i) {
  drawFsc(i);
  drawF480(i);
  drawHist(i);
  const f = flowLayout[i];
  arrow(svg, 'flow-arrow-to-f480', f[0], f[1], f[2], f[3], 1.8, 12, 11, '#444');
  arrow(svg, 'flow-arrow-to-cd206', f[4], f[5], f[6], f[7], 1.8, 12, 11, '#444');
});

/* bottom axis titles */
label(svg, 'fsc-axis-title', 268.6, 2624, 'FSC-H', {textLength: 103, lengthAdjust: 'spacingAndGlyphs'});
arrow(svg, 'fsc-axis-arrow', 392.6, 2611, 677, 2611, 3.4, 18, 19, '#222');
label(svg, 'cd11b-axis-title', 864.7, 2624, 'CD11b', {textLength: 106, lengthAdjust: 'spacingAndGlyphs'});
arrow(svg, 'cd11b-axis-arrow', 984, 2611, 1271, 2611, 3.4, 18, 19, '#222');
label(svg, 'cd206-axis-title', 1446.7, 2624, 'CD206', {textLength: 106, lengthAdjust: 'spacingAndGlyphs'});
arrow(svg, 'cd206-axis-arrow', 1583, 2611, 1870, 2611, 3.4, 18, 19, '#222');

/* faint scan remnants between the rows */
[[1202, 9], [1222, 9], [1306, 9], [1341, 9]].forEach(function (m) {
  make(svg, 'rect', 'scan-remnant', {x: 104.5, y: m[0], width: 3, height: m[1], fill: '#ddd'});
});
</script>
</body>
</html>
